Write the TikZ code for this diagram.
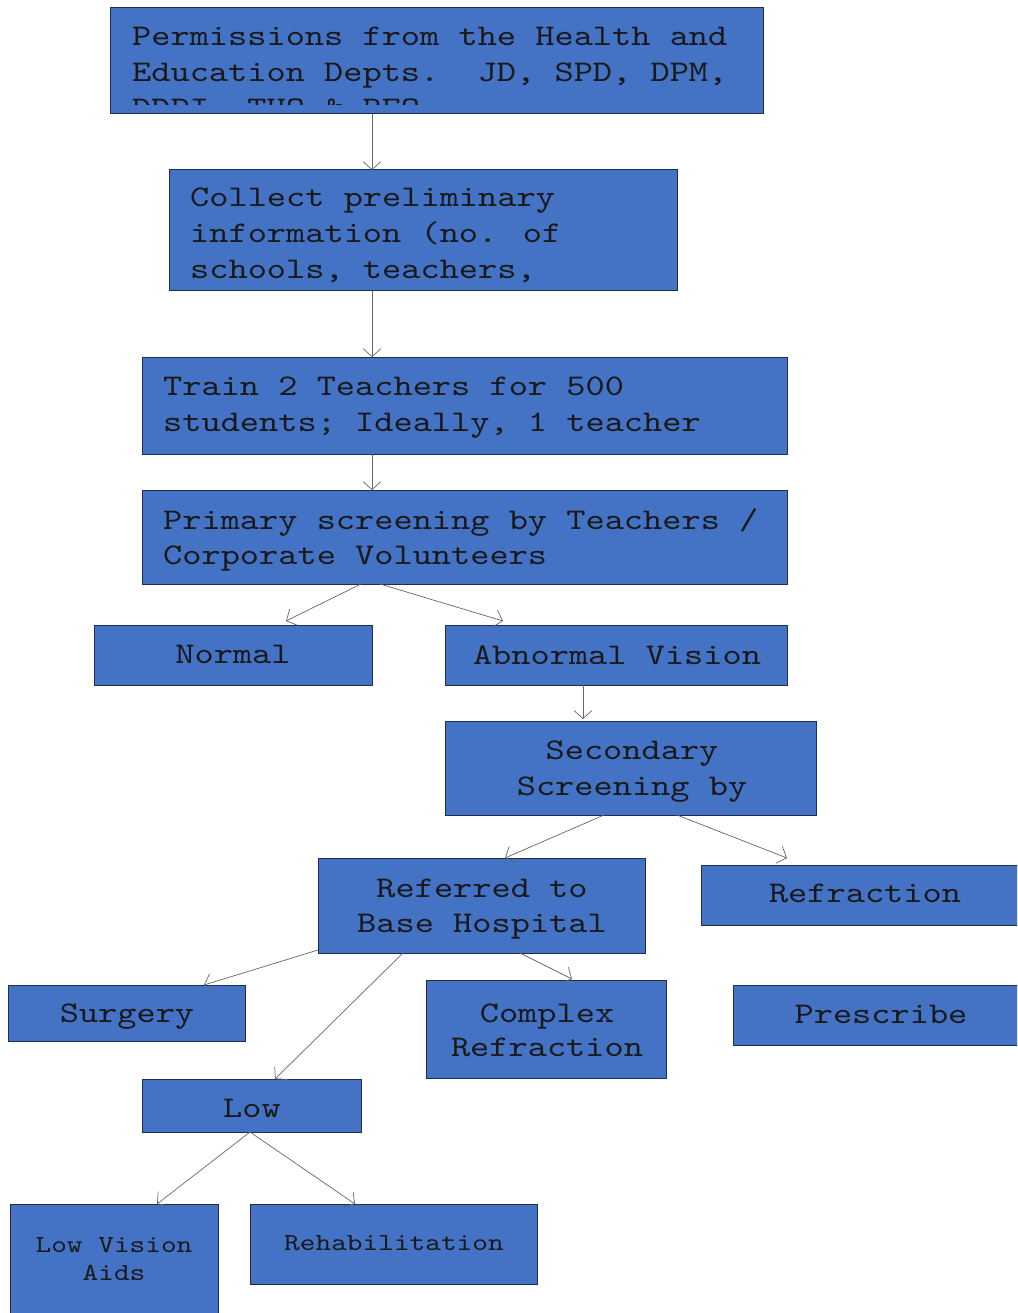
\documentclass[tikz,border=0pt]{standalone}
\usepackage{fontspec}
\newfontfamily\cour{lmmono10-regular.otf}[FakeStretch=1.219]
\usetikzlibrary{arrows.meta,calc}
\definecolor{boxblue}{HTML}{4472C4}
\definecolor{boxedge}{HTML}{1F2D50}
\definecolor{arrgray}{HTML}{666666}
\newcommand{\mkbox}[5]{\node[box,minimum width={#4-#2},minimum height={#5-#3}] (#1) at ({(#2+#4)/2},{(#3+#5)/2}) {};}
\begin{document}
\begin{tikzpicture}[x=1pt,y=-1pt,
  box/.style={rectangle,fill=boxblue,draw=boxedge,line width=1pt,inner sep=0pt,outer sep=0pt},
  big/.style={inner sep=0pt,font=\cour\fontsize{30}{36}\selectfont,text=black!90},
  small/.style={inner sep=0pt,font=\cour\fontsize{24.5}{28}\selectfont,text=black!90},
  arr/.style={draw=arrgray,line width=0.7pt,-{Straight Barb[length=8pt,width=18pt,line width=0.7pt]}}]
\clip (0,0) rectangle (1017,1313);
\fill[white] (0,0) rectangle (1017,1313);
% boxes
\mkbox{perm}{110}{8}{763}{114}
\mkbox{coll}{169}{170}{677}{291}
\mkbox{train}{142}{357}{787}{454}
\mkbox{prim}{142}{490}{787}{584}
\mkbox{norm}{94}{625}{372}{685}
\mkbox{abn}{445}{625}{787}{685}
\mkbox{sec}{445}{721}{816}{815}
\mkbox{ref}{318}{858}{645}{953}
\mkbox{refr}{701}{865}{1029}{925}
\mkbox{surg}{8}{985}{245}{1041}
\mkbox{cplx}{426}{980}{666}{1078}
\mkbox{presc}{733}{985}{1029}{1045}
\mkbox{low}{142}{1079}{361}{1132}
\mkbox{lva}{10}{1204}{218}{1340}
\mkbox{rehab}{250}{1204}{537}{1284}
% texts
\begin{scope}
\clip (111,9) rectangle (762,105);
\node[big,anchor=base west] (perm1) at (132,46) {Permissions from the Health and};
\node[big,anchor=base west] (perm2) at (132,82) {Education Depts.\ \ JD, SPD, DPM,};
\node[big,anchor=base west] (perm3) at (132,118) {DDPI, THO \& BEO};
\end{scope}
\node[big,anchor=base west] (coll1) at (190,207) {Collect preliminary};
\node[big,anchor=base west] (coll2) at (190,243) {information (no. of};
\node[big,anchor=base west] (coll3) at (190,279) {schools, teachers,};
\node[big,anchor=base west] (train1) at (163,395) {Train 2 Teachers for 500};
\node[big,anchor=base west] (train2) at (163,431) {students; Ideally, 1 teacher};
\node[big,anchor=base west] (prim1) at (163,529) {Primary screening by Teachers /};
\node[big,anchor=base west] (prim2) at (163,564) {Corporate Volunteers};
\node[big,anchor=base] (normt) at (233,663) {Normal};
\node[big,anchor=base] (abnt) at (617,664) {Abnormal Vision};
\node[big,anchor=base] (sec1) at (632,759) {Secondary};
\node[big,anchor=base] (sec2) at (632,795) {Screening by};
\node[big,anchor=base] (ref1) at (482,897) {Referred to};
\node[big,anchor=base] (ref2) at (482,932) {Base Hospital};
\node[big,anchor=base] (refrt) at (865,902) {Refraction};
\node[big,anchor=base] (surgt) at (127,1022) {Surgery};
\node[big,anchor=base] (cplx1) at (547,1022) {Complex};
\node[big,anchor=base] (cplx2) at (547,1056) {Refraction};
\node[big,anchor=base] (presct) at (881,1023) {Prescribe};
\node[big,anchor=base] (lowt) at (252,1117) {Low};
\node[small,anchor=base] (lva1) at (114,1252) {Low Vision};
\node[small,anchor=base] (lva2) at (114,1280) {Aids};
\node[small,anchor=base] (rehabt) at (394,1250) {Rehabilitation};
% connectors
\draw[arr] ([xshift=262pt]perm.south west) -- ([xshift=203pt]coll.north west);
\draw[arr] ([xshift=203pt]coll.south west) -- ([xshift=230pt]train.north west);
\draw[arr] ([xshift=230pt]train.south west) -- ([xshift=230pt]prim.north west);
\draw[arr] ([xshift=219pt]prim.south west) -- ([xshift=192pt,yshift=4pt]norm.north west);
\draw[arr] ([xshift=238pt]prim.south west) -- ([xshift=58pt,yshift=4pt]abn.north west);
\draw[arr] ([xshift=138pt]abn.south west) -- ([xshift=138pt,yshift=2pt]sec.north west);
\draw[arr] ([xshift=159pt]sec.south west) -- ([xshift=187pt]ref.north west);
\draw[arr] ([xshift=232pt]sec.south west) -- ([xshift=86pt,yshift=7pt]refr.north west);
\draw[arr] ([yshift=3pt]ref.south west) -- ([xshift=196pt]surg.north west);
\draw[arr] ([xshift=85pt]ref.south west) -- ([xshift=133pt]low.north west);
\draw[arr] ([xshift=202pt]ref.south west) -- ([xshift=146pt,yshift=1pt]cplx.north west);
\draw[arr] ([xshift=108pt]low.south west) -- ([xshift=147pt]lva.north west);
\draw[arr] ([xshift=108pt]low.south west) -- ([xshift=105pt]rehab.north west);
\end{tikzpicture}
\end{document}
